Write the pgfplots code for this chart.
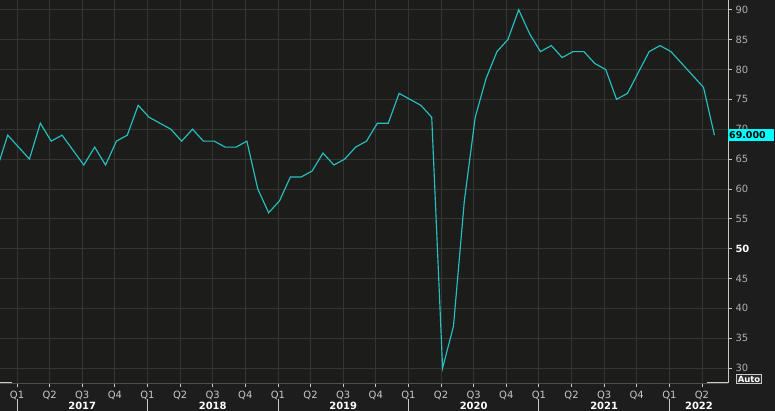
\documentclass[border=0pt]{standalone}
\usepackage{pgfplots}
\pgfplotsset{compat=1.18}
\usepackage{fontspec}
\setmainfont{DejaVu Sans}
\definecolor{bg}{RGB}{29,29,29}
\definecolor{plotbg}{RGB}{28,29,27}
\definecolor{gridc}{RGB}{51,53,49}
\definecolor{linec}{RGB}{38,192,192}
\definecolor{txt}{RGB}{200,200,200}
\definecolor{ytxt}{RGB}{175,175,175}
\definecolor{axc}{RGB}{200,200,200}
\definecolor{axg}{RGB}{78,78,78}
\definecolor{boxc}{RGB}{0,255,255}
\definecolor{autobg}{RGB}{45,45,45}
\begin{document}
\begin{tikzpicture}
\fill[bg] (0,0) rectangle (775bp,411bp);
\useasboundingbox (0,0) rectangle (775bp,411bp);
\begin{axis}[
  at={(0bp,28bp)}, anchor=south west,
  width=728bp, height=383bp, scale only axis,
  xmin=-1.708, xmax=65.25, ymin=27.49, ymax=91.64,
  axis background/.style={fill=plotbg},
  axis x line*=bottom, axis y line*=right,
  x axis line style={draw=axg, line width=1bp},
  y axis line style={draw=axc, line width=1bp},
  xtick={-0.144,2.856,5.856,8.856,11.856,14.856,17.856,20.856,23.856,26.856,29.856,32.856,35.856,38.856,41.856,44.856,47.856,50.856,53.856,56.856,59.856,62.856},
  xticklabels={Q1,Q2,Q3,Q4,Q1,Q2,Q3,Q4,Q1,Q2,Q3,Q4,Q1,Q2,Q3,Q4,Q1,Q2,Q3,Q4,Q1,Q2},
  ytick={30,35,40,45,50,55,60,65,70,75,80,85,90},
  yticklabels={30,35,40,45,{\color{white}\bfseries 50},55,60,65,70,75,80,85,90},
  tick align=outside, major tick length=4bp,
  tick style={draw=axc, line width=0.8bp},
  grid=major, major grid style={draw=gridc, line width=0.8bp},
  ticklabel style={font=\fontsize{10}{11}\selectfont},
  xticklabel style={text=txt, yshift=-1bp},
  yticklabel style={text=ytxt},
  extra x ticks={5.856,17.856,29.856,41.856,53.856,62.58},
  extra x tick labels={2017,2018,2019,2020,2021,2022},
  extra x tick style={grid=none, major tick length=0pt,
    xticklabel style={yshift=-15bp, text=white, font=\bfseries\fontsize{10}{11}\selectfont}},
]
\addplot[linec, line width=1.15bp, mark=none] table {
n v
-2 63.3
-1 69
0 67
1 65
2 71
3 68
4 69
5 66.5
6 64
7 67
8 64
9 68
10 69
11 74
12 72
13 71
14 70
15 68
16 70
17 68
18 68
19 67
20 67
21 68
22 60
23 56
24 58
25 62
26 62
27 63
28 66
29 64
30 65
31 67
32 68
33 71
34 71
35 76
36 75
37 74
38 72
39 30
40 37
41 58
42 72
43 78.5
44 83
45 85
46 90
47 86
48 83
49 84
50 82
51 83
52 83
53 81
54 80
55 75
56 76
57 79.5
58 83
59 84
60 83
61 81
62 79
63 77
64 69
};
\coordinate (s0) at (axis cs:-0.144,27.49);
\coordinate (s1) at (axis cs:11.856,27.49);
\coordinate (s2) at (axis cs:23.856,27.49);
\coordinate (s3) at (axis cs:35.856,27.49);
\coordinate (s4) at (axis cs:47.856,27.49);
\coordinate (s5) at (axis cs:59.856,27.49);
\coordinate (wl0) at (axis cs:-1.708,27.49);
\coordinate (wl1) at (axis cs:-0.604,27.49);
\coordinate (wr0) at (axis cs:63.3,27.49);
\coordinate (wr1) at (axis cs:65.25,27.49);
\coordinate (vb) at (axis cs:65.25,69);
\end{axis}
\foreach \c in {s0,s1,s2,s3,s4,s5}
  \draw[axc, line width=0.8bp] ([yshift=-16bp]\c) -- ([yshift=-30bp]\c);
\draw[axc, line width=1bp] (wl0) -- (wl1);
\draw[axc, line width=1bp] (wr0) -- (wr1);
\node[fill=boxc, text=black, font=\bfseries\fontsize{9.5}{11}\selectfont,
  anchor=west, inner xsep=1bp, inner ysep=0bp, minimum height=12bp,
  text width=44bp, align=left] at (vb) {69.000};
\node[draw=axc, fill=autobg, text=white, font=\bfseries\fontsize{8.5}{9}\selectfont,
  inner sep=1bp, line width=0.8bp] at (749bp,32bp) {Auto};
\end{tikzpicture}
\end{document}
